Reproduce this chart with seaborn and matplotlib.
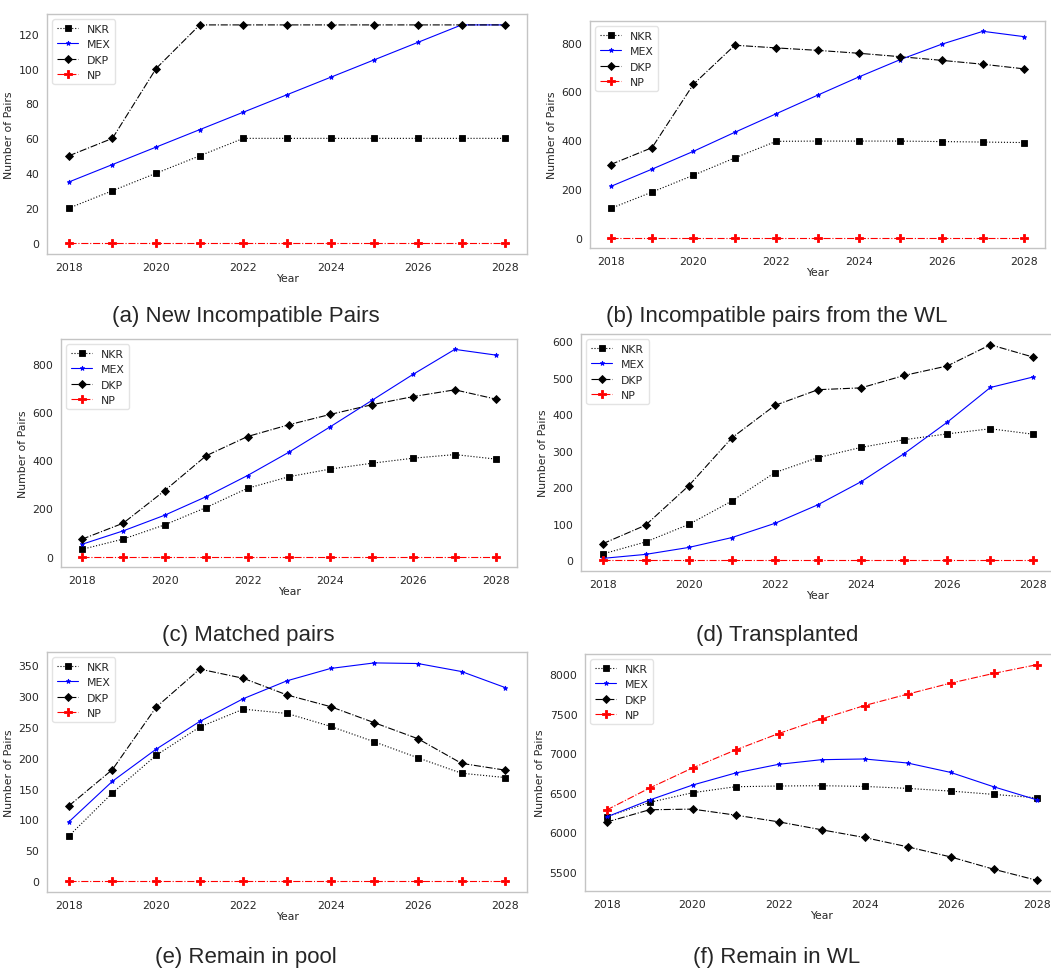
import matplotlib
matplotlib.use("Agg")
import matplotlib.pyplot as plt
import seaborn as sns

sns.set_theme(style="white")
plt.rcParams["font.family"] = ["DejaVu Sans"]

years = [2018, 2019, 2020, 2021, 2022, 2023, 2024, 2025, 2026, 2027, 2028]
methods = ["NKR", "MEX", "DKP", "NP"]

# (a) New incompatible pairs
a_nkr = [20, 30, 40, 50, 60, 60, 60, 60, 60, 60, 60]
a_mex = [35, 45, 55, 65, 75, 85, 95, 105, 115, 125, 125]
a_dkp = [50, 60, 100, 125, 125, 125, 125, 125, 125, 125, 125]
a_np = [0] * 11

# (b) Incompatible pairs from the WL
b_nkr = [120, 187, 256, 327, 395, 396, 396, 396, 394, 392, 390]
b_mex = [210, 281, 354, 432, 508, 584, 659, 730, 793, 846, 824]
b_dkp = [300, 369, 629, 789, 778, 768, 756, 742, 727, 711, 692]
b_np = [0] * 11

# (c) Matched pairs
c_nkr = [30, 73, 132, 204, 284, 332, 364, 388, 409, 424, 405]
c_mex = [51, 107, 172, 249, 337, 434, 540, 649, 758, 861, 837]
c_dkp = [72, 139, 274, 419, 499, 548, 591, 631, 665, 693, 654]
c_np = [0] * 11

# (d) Transplanted
d_nkr = [17, 50, 98, 162, 240, 281, 309, 330, 346, 360, 345]
d_mex = [5, 16, 35, 62, 101, 152, 215, 292, 378, 473, 502]
d_dkp = [45, 96, 204, 335, 424, 467, 472, 506, 532, 590, 556]
d_np = [0] * 11

# (e) Remain in pool
e_nkr = [73, 143, 204, 250, 279, 272, 251, 226, 200, 175, 168]
e_mex = [96, 162, 214, 259, 296, 325, 345, 354, 353, 340, 314]
e_dkp = [122, 181, 282, 344, 329, 302, 283, 257, 231, 191, 180]
e_np = [0] * 11

# (f) Remain in WL
f_nkr = [6195, 6377, 6500, 6576, 6585, 6589, 6580, 6555, 6521, 6479, 6436]
f_mex = [6192, 6407, 6597, 6750, 6860, 6919, 6928, 6877, 6758, 6576, 6411]
f_dkp = [6127, 6284, 6292, 6216, 6131, 6030, 5932, 5814, 5686, 5530, 5390]
f_np = [6280, 6559, 6814, 7042, 7250, 7436, 7606, 7750, 7890, 8013, 8123]

captions = ["(a) New Incompatible Pairs", "(b) Incompatible pairs from the WL",
            "(c) Matched pairs", "(d) Transplanted",
            "(e) Remain in pool", "(f) Remain in WL"]

panels = [
    (a_nkr, a_mex, a_dkp, a_np),
    (b_nkr, b_mex, b_dkp, b_np),
    (c_nkr, c_mex, c_dkp, c_np),
    (d_nkr, d_mex, d_dkp, d_np),
    (e_nkr, e_mex, e_dkp, e_np),
    (f_nkr, f_mex, f_dkp, f_np),
]

styles = {
    "NKR": dict(color="black", linestyle=":", marker="s", markersize=4.5,
                markeredgecolor="black"),
    "MEX": dict(color="blue", linestyle="-", marker="*", markersize=3.5,
                markeredgecolor="blue"),
    "DKP": dict(color="black", linestyle="-.", marker="D", markersize=4.5,
                markeredgecolor="black"),
    "NP": dict(color="red", linestyle="-.", marker="P", markersize=5.5,
               markeredgecolor="red"),
}

W, H = 1051, 970
# axes boxes in pixels: left, top, right, bottom
boxes = [
    (47, 15, 527, 255),
    (590, 22, 1045, 249),
    (61, 340, 517, 568),
    (581, 335, 1055, 572),
    (47, 653, 527, 893),
    (585, 655, 1058, 892),
]
cap_pos = [(246, 317), (777, 317), (248, 635), (777, 635), (246, 958), (777, 958)]

fig = plt.figure(figsize=(W / 100, H / 100), dpi=100)

fs = 7.8
for i, (series, (l, t, r, b)) in enumerate(zip(panels, boxes)):
    ax = fig.add_axes([l / W, 1 - b / H, (r - l) / W, (b - t) / H])
    for name, vals in zip(methods, series):
        sns.lineplot(x=years, y=vals, ax=ax, label=name, linewidth=0.8,
                     markeredgewidth=0.6, **styles[name])
    ax.set_xticks([2018, 2020, 2022, 2024, 2026, 2028])
    ax.tick_params(labelsize=fs, colors="#262626", length=2, width=0.6)
    ax.set_xlabel("Year", fontsize=fs, labelpad=1)
    ax.set_ylabel("Number of Pairs", fontsize=fs, labelpad=3)
    for sp in ax.spines.values():
        sp.set_color("#c4c4c4")
        sp.set_linewidth(1.0)
    ax.legend(loc="upper left", fontsize=fs, frameon=True, edgecolor="#dddddd")
    cx, cy = cap_pos[i]
    fig.text(cx / W, 1 - cy / H, captions[i], ha="center", va="center",
             fontsize=16, family=["Liberation Sans", "DejaVu Sans"])

fig.savefig("out.png", dpi=100, facecolor="white")
